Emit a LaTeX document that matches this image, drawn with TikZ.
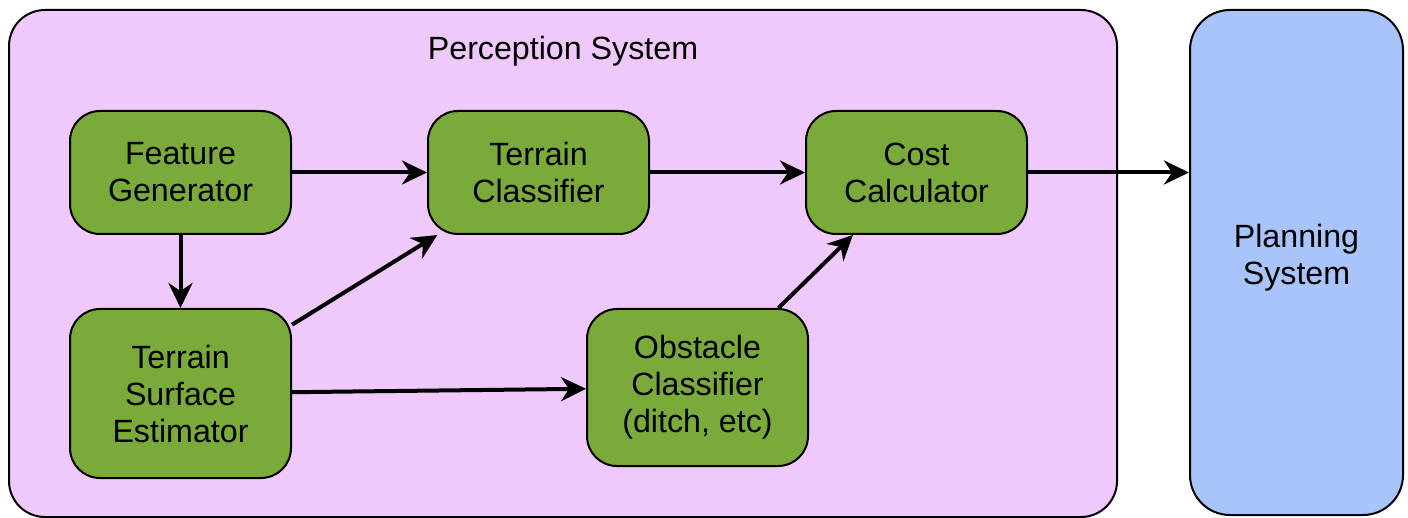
\documentclass[tikz,border=0pt]{standalone}
\usepackage{fontspec}
\setmainfont{Liberation Sans}
\usetikzlibrary{arrows.meta,calc}
\definecolor{pinkfill}{RGB}{240,201,252}
\definecolor{greenfill}{RGB}{122,170,58}
\definecolor{bluefill}{RGB}{169,196,251}
\begin{document}
\begin{tikzpicture}[x=0.5pt,y=-0.5pt,
  txt/.style={font=\fontsize{16.1}{18.5}\selectfont, align=center},
  procbox/.style={txt, draw=black, line width=1pt, fill=greenfill, rounded corners=15pt,
     minimum width=110.5pt, minimum height=61.5pt, inner sep=0pt},
  flow/.style={line width=2pt, -{Stealth[length=12.5pt,width=12pt,inset=4pt]}}]
\useasboundingbox (0,0) rectangle (1408,518);
\node[draw=black, line width=1pt, fill=pinkfill, rounded corners=18pt,
  minimum width=554pt, minimum height=253.5pt, inner sep=0pt] (perc) at (563,263.5) {};
\node[draw=black, line width=1pt, fill=bluefill, rounded corners=20pt,
  minimum width=106.5pt, minimum height=252.5pt, inner sep=0pt] (plan) at (1296.5,262.5) {};
\node[txt] (plantxt) at (1296.5,258) {Planning\\System};
\node[txt] (title) at (563,51) {Perception System};
\node[procbox] (fg) at (180.5,172.5) {Feature\\Generator};
\node[procbox] (tc) at (538.5,172.5) {Terrain\\Classifier};
\node[procbox] (cc) at (916.5,172.5) {Cost\\Calculator};
\node[procbox, minimum height=84.5pt] (tse) at (180.5,393.5) {Terrain\\Surface\\Estimator};
\node[procbox, minimum height=78.5pt] (oc) at (697.5,387.5) {Obstacle\\Classifier\\(ditch, etc)};
\draw[flow] (fg) -- (tc);
\draw[flow] (tc) -- (cc);
\draw[flow] (cc.east) -- (cc.east -| plan.west);
\draw[flow] (fg) -- (tse);
\draw[flow] (tse) -- (tc);
\draw[flow] (tse) -- (oc);
\draw[flow] (oc) -- (cc);
\end{tikzpicture}
\end{document}
